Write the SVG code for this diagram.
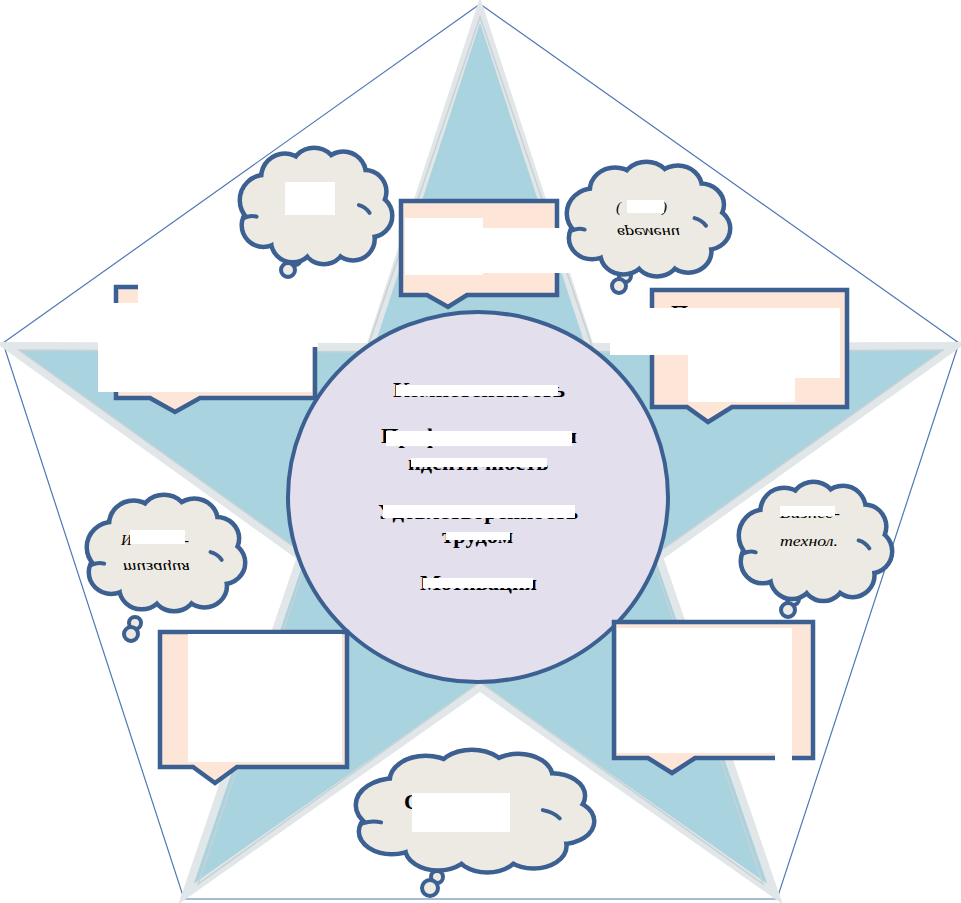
<svg xmlns="http://www.w3.org/2000/svg" xmlns:xlink="http://www.w3.org/1999/xlink" width="961" height="903" viewBox="0 0 961 903">
<style>
.pent{fill:#ffffff;stroke:#4f79b4;stroke-width:1.2}
.star{fill:#a9d3df;stroke:#e1e6e8;stroke-width:8;stroke-linejoin:miter}
.star2{fill:none;stroke:#c8d1d5;stroke-width:1.5}
.core{fill:#e3dfec;stroke:#3b6091;stroke-width:4}
.box{fill:#fde6d8;stroke:#3b6091;stroke-width:4.5;stroke-linejoin:miter}
.cb{fill:#3b6091;stroke:#3b6091;stroke-width:9}
.cf{fill:#edeae3;stroke:none}
.curl{fill:none;stroke:#3b6091;stroke-width:4;stroke-linecap:round}
.tail{fill:#edeae3;stroke:#3b6091;stroke-width:4}
.w{fill:#ffffff}
.ct{font-family:"Liberation Serif",serif;font-weight:bold;font-size:22px;fill:#000}
.it{font-family:"Liberation Serif",serif;font-style:italic;font-size:15px;fill:#000}
</style>
<defs>
<g id="cshape">
<circle cx="24" cy="52" r="24" vector-effect="non-scaling-stroke"/>
<circle cx="44" cy="28" r="22" vector-effect="non-scaling-stroke"/>
<circle cx="74" cy="22" r="22" vector-effect="non-scaling-stroke"/>
<circle cx="104" cy="25" r="21" vector-effect="non-scaling-stroke"/>
<circle cx="126" cy="43" r="20" vector-effect="non-scaling-stroke"/>
<circle cx="132" cy="68" r="20" vector-effect="non-scaling-stroke"/>
<circle cx="114" cy="92" r="20" vector-effect="non-scaling-stroke"/>
<circle cx="84" cy="96" r="20" vector-effect="non-scaling-stroke"/>
<circle cx="52" cy="94" r="20" vector-effect="non-scaling-stroke"/>
<circle cx="22" cy="78" r="20" vector-effect="non-scaling-stroke"/>
<ellipse cx="74" cy="60" rx="56" ry="38" vector-effect="non-scaling-stroke"/>
</g>
<g id="cloud">
<use xlink:href="#cshape" class="cb"/>
<use xlink:href="#cshape" class="cf"/>
<path class="curl" d="M3,70 Q9,67 15,69" vector-effect="non-scaling-stroke"/>
<path class="curl" d="M120,57 Q127,59 131,65" vector-effect="non-scaling-stroke"/>
</g>
</defs>

<g id="frame">
<polygon class="pent" points="480,4 959,343 777,899 184,899 3,343"/>
</g>
<g id="star">
<polygon class="star" points="480,10 590,347 955,346 659,557 775,894 480,687 186,894 301,557 7,346 370,347"/>
<polygon class="star2" points="480,17 594,352 943,350 652,557 763,884 480,682 198,884 308,557 19,350 366,352"/>
</g>

<g id="connectors"></g>

<g id="center">
<ellipse class="core" cx="478" cy="497" rx="190" ry="185"/>
<text class="ct" x="393" y="397" textLength="172" lengthAdjust="spacingAndGlyphs">Компетентность</text>
<text class="ct" x="381" y="443" textLength="196" lengthAdjust="spacingAndGlyphs">Профессиональная</text>
<text class="ct" x="408" y="470" textLength="140" lengthAdjust="spacingAndGlyphs">идентичность</text>
<text class="ct" x="378" y="519" textLength="200" lengthAdjust="spacingAndGlyphs">Удовлетворенность</text>
<text class="ct" x="442" y="543" textLength="71" lengthAdjust="spacingAndGlyphs">трудом</text>
<text class="ct" x="420" y="590" textLength="117" lengthAdjust="spacingAndGlyphs">Мотивация</text>
<rect class="w" x="396" y="385" width="162" height="11"/>
<rect class="w" x="386" y="431" width="186" height="15"/>
<rect class="w" x="411" y="458" width="136" height="9"/>
<rect class="w" x="383" y="505" width="192" height="13"/>
<rect class="w" x="446" y="532" width="64" height="8"/>
<rect class="w" x="423" y="578" width="110" height="10"/>
</g>

<g id="box-top">
<path class="box" d="M401,201 H557 V295 H467 L448,307 L427,295 H401 Z"/>
<rect class="w" x="405" y="218" width="78" height="57"/>
<rect class="w" x="483" y="228" width="89" height="45"/>
</g>
<g id="box-top-left">
<path class="box" d="M116,287 H315 V398 H200 L175,412 L150,398 H116 Z"/>
<rect class="w" x="138" y="283" width="180" height="64"/>
<rect class="w" x="98" y="303" width="214" height="89"/>
</g>
<g id="box-top-right">
<path class="box" d="M652,290 H847 V407 H732 L708,422 L687,407 H652 Z"/>
<text class="ct" x="671" y="320" font-size="20">Пр</text>
<rect class="w" x="610" y="308" width="230" height="47"/>
<rect class="w" x="688" y="355" width="107" height="47"/>
<rect class="w" x="795" y="355" width="45" height="23"/>
</g>
<g id="box-bottom-left">
<path class="box" d="M160,632 H347 V767 H237 L215,783 L193,767 H160 Z"/>
<rect class="w" x="188" y="634" width="154" height="128"/>
</g>
<g id="box-bottom-right">
<path class="box" d="M614,622 H813 V758 H695 L672,773 L648,758 H614 Z"/>
<rect class="w" x="617" y="628" width="175" height="125"/>
<rect class="w" x="775" y="750" width="17" height="12"/>
</g>

<g id="cloud-top-left">
<circle class="tail" cx="295" cy="259" r="6"/>
<circle class="tail" cx="288" cy="270" r="7"/>
<use xlink:href="#cloud" transform="translate(242,150) scale(0.974,0.966)"/>
<rect class="w" x="285" y="182" width="50" height="33"/>
</g>
<g id="cloud-top-right">
<circle class="tail" cx="625" cy="276" r="6"/>
<circle class="tail" cx="619" cy="286" r="7"/>
<use xlink:href="#cloud" transform="translate(569,164) scale(1.046,0.95)"/>
<text class="it" x="616" y="212">(</text>
<text class="it" x="662" y="212">)</text>
<rect class="w" x="627" y="200" width="37" height="13"/>
<g transform="matrix(1,0,0,-1,0,463)"><text class="it" x="617" y="235" textLength="63" lengthAdjust="spacingAndGlyphs">времени</text></g>
</g>
<g id="cloud-left">
<circle class="tail" cx="135" cy="623" r="6"/>
<circle class="tail" cx="131" cy="634" r="7"/>
<use xlink:href="#cloud" transform="translate(89,497) scale(1.013,0.966)"/>
<text class="it" x="121" y="545">И</text>
<text class="it" x="184" y="545">-</text>
<rect class="w" x="130" y="530" width="55" height="14"/>
<g transform="matrix(1,0,0,-1,0,1132)"><text class="it" x="123" y="569" textLength="67" lengthAdjust="spacingAndGlyphs">тизация</text></g>
</g>
<g id="cloud-right">
<circle class="tail" cx="793" cy="599" r="6"/>
<circle class="tail" cx="788" cy="610" r="7"/>
<use xlink:href="#cloud" transform="translate(741,484) scale(0.98,0.99)"/>
<text class="it" x="780" y="518" textLength="60" lengthAdjust="spacingAndGlyphs">Бизнес-</text>
<rect class="w" x="780" y="506" width="55" height="10"/>
<text class="it" x="780" y="546" textLength="58" lengthAdjust="spacingAndGlyphs">технол.</text>
</g>
<g id="cloud-bottom">
<circle class="tail" cx="437" cy="877" r="6"/>
<circle class="tail" cx="430" cy="888" r="8"/>
<use xlink:href="#cloud" transform="translate(358,752) scale(1.54,1.02)"/>
<text class="ct" x="404" y="809" font-weight="normal" font-size="20">С</text>
<rect class="w" x="412" y="793" width="98" height="39"/>
</g>
</svg>
